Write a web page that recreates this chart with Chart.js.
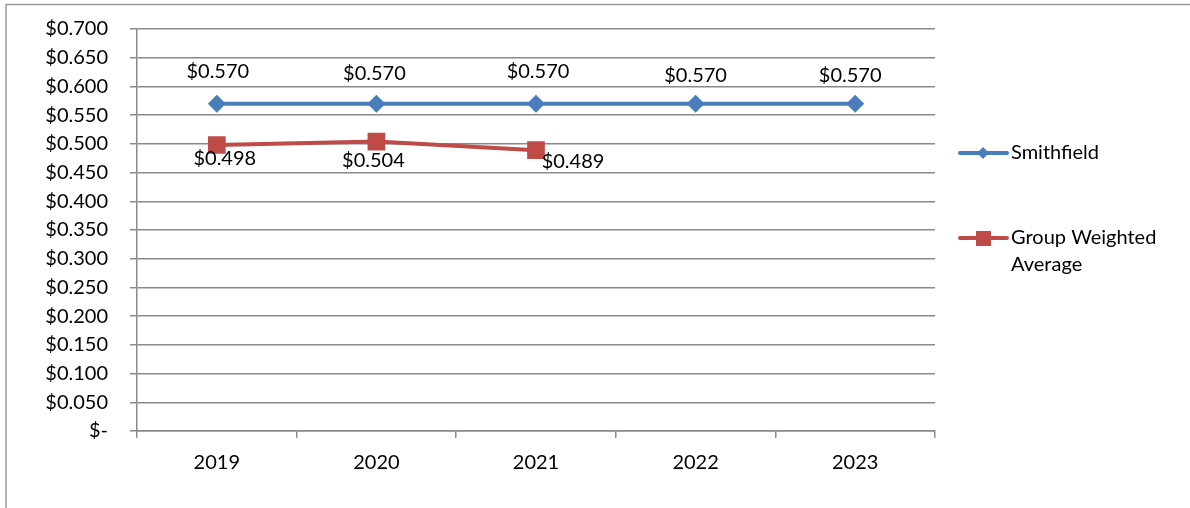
<!DOCTYPE html>
<html lang="en">
<head>
    <meta charset="UTF-8">
    <title>Smithfield vs Group Weighted Average</title>
    <script src="https://cdn.jsdelivr.net/npm/chart.js"></script>
    <style>
        html, body { margin: 0; padding: 0; background: #fff; }
        #wrap { width: 1190px; height: 508px; }
    </style>
</head>
<body>
    <div id="wrap"><canvas id="rateChart" width="1190" height="508"></canvas></div>

    <script>
        const years = ['2019', '2020', '2021', '2022', '2023'];
        const smithfield = [0.570, 0.570, 0.570, 0.570, 0.570];
        const groupAverage = [0.498, 0.504, 0.489, null, null];

        const BLUE = '#4a7ebb';
        const RED = '#be4b48';
        const GRID = '#8a8a8a';
        const FONT = { family: 'Lato, "Open Sans", sans-serif', size: 20 };

        const money = v => v === 0 ? '$-' : '$' + Number(v).toFixed(3);

        // value labels next to each point, nudged per point
        const pointLabels = {
            id: 'pointLabels',
            afterDatasetsDraw(chart, args, opts) {
                const ctx = chart.ctx;
                ctx.save();
                ctx.font = FONT.size + 'px ' + FONT.family;
                ctx.fillStyle = '#000';
                ctx.textAlign = 'center';
                ctx.textBaseline = 'middle';
                chart.data.datasets.forEach((ds, i) => {
                    const shift = opts.shifts[i];
                    chart.getDatasetMeta(i).data.forEach((pt, j) => {
                        const v = ds.data[j];
                        if (v == null) return;
                        ctx.fillText(money(v), pt.x + shift[j][0], pt.y + shift[j][1]);
                    });
                });
                ctx.restore();
            }
        };

        // outer frame and the right-hand legend
        const frameLegend = {
            id: 'frameLegend',
            beforeDraw(chart) {
                const ctx = chart.ctx;
                ctx.save();
                ctx.strokeStyle = '#999';
                ctx.lineWidth = 1.5;
                ctx.strokeRect(6, 4.5, 1200, 600);
                ctx.restore();
            },
            afterDraw(chart) {
                const ctx = chart.ctx;
                ctx.save();
                ctx.lineWidth = 4;
                ctx.lineCap = 'round';

                // Smithfield entry
                ctx.strokeStyle = BLUE;
                ctx.beginPath(); ctx.moveTo(960, 153); ctx.lineTo(1007, 153); ctx.stroke();
                ctx.fillStyle = BLUE;
                ctx.beginPath();
                ctx.moveTo(983, 147); ctx.lineTo(989, 153); ctx.lineTo(983, 159); ctx.lineTo(977, 153);
                ctx.closePath(); ctx.fill();

                // Group Weighted Average entry
                ctx.strokeStyle = RED;
                ctx.beginPath(); ctx.moveTo(960, 238); ctx.lineTo(1007, 238); ctx.stroke();
                ctx.fillStyle = RED;
                ctx.fillRect(976, 231, 15, 15);

                ctx.fillStyle = '#000';
                ctx.font = FONT.size + 'px ' + FONT.family;
                ctx.textBaseline = 'middle';
                ctx.fillText('Smithfield', 1011, 153);
                ctx.fillText('Group Weighted', 1011, 238);
                ctx.fillText('Average', 1011, 265);
                ctx.restore();
            }
        };

        const ctx = document.getElementById('rateChart').getContext('2d');
        new Chart(ctx, {
            type: 'line',
            data: {
                labels: years,
                datasets: [
                    {
                        label: 'Smithfield',
                        data: smithfield,
                        borderColor: BLUE,
                        backgroundColor: BLUE,
                        borderWidth: 4,
                        pointStyle: 'rectRot',
                        pointRadius: 9,
                        pointBorderWidth: 0,
                        tension: 0
                    },
                    {
                        label: 'Group Weighted Average',
                        data: groupAverage,
                        borderColor: RED,
                        backgroundColor: RED,
                        borderWidth: 4,
                        pointStyle: 'rect',
                        pointRadius: 12.5,
                        pointBorderWidth: 0,
                        tension: 0
                    }
                ]
            },
            options: {
                responsive: false,
                animation: false,
                events: [],
                layout: { padding: { top: 29, right: 255, left: 0, bottom: 0 } },
                plugins: {
                    legend: { display: false },
                    tooltip: { enabled: false },
                    pointLabels: {
                        shifts: [
                            [[1, -32], [-2, -30], [2, -32], [0, -28], [-5, -28]],
                            [[8, 14], [-3, 19], [37, 11]]
                        ]
                    }
                },
                scales: {
                    x: {
                        offset: true,
                        grid: {
                            offset: true,
                            drawOnChartArea: false,
                            drawTicks: true,
                            tickLength: 7,
                            color: GRID,
                            lineWidth: 1.5
                        },
                        border: { color: GRID, width: 1.5 },
                        ticks: { color: '#000', font: FONT, padding: 13, maxRotation: 0 },
                        afterFit: s => { s.height = 77; s.paddingLeft = 0; s.paddingRight = 0; }
                    },
                    y: {
                        min: 0,
                        max: 0.7,
                        ticks: {
                            stepSize: 0.05,
                            color: '#000',
                            font: FONT,
                            padding: 22,
                            callback: v => money(Math.round(v * 1000) / 1000)
                        },
                        grid: { color: GRID, lineWidth: 1.5, tickLength: 7 },
                        border: { color: GRID, width: 1.5 },
                        afterFit: s => { s.width = 137; s.paddingTop = 0; s.paddingBottom = 0; }
                    }
                }
            },
            plugins: [pointLabels, frameLegend]
        });
    </script>
</body>
</html>
